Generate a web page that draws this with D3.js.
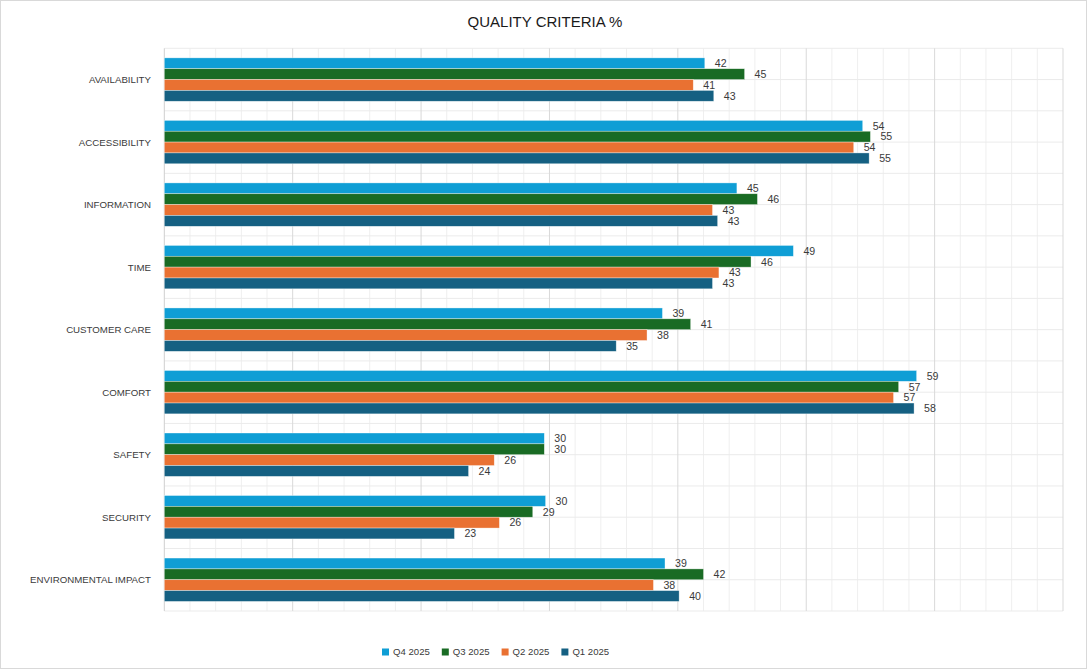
<!DOCTYPE html>
<html>
<head>
<meta charset="utf-8">
<script src="https://cdn.jsdelivr.net/npm/d3@7"></script>
<style>
  html, body { margin: 0; padding: 0; background: #fff; }
  svg { display: block; font-family: 'Liberation Sans', Arial, sans-serif; }
  .cat-label { font-size: 9.7px; fill: #3a3a3a; }
  .val-label { font-size: 10.6px; fill: #3a3a3a; }
  .legend text { font-size: 9.6px; fill: #3a3a3a; }
</style>
</head>
<body>
<div id="chart"></div>
<script>
const categories = ['AVAILABILITY', 'ACCESSIBILITY', 'INFORMATION', 'TIME', 'CUSTOMER CARE',
  'COMFORT', 'SAFETY', 'SECURITY', 'ENVIRONMENTAL IMPACT'];
const seriesNames = ['Q4 2025', 'Q3 2025', 'Q2 2025', 'Q1 2025'];
const q4Values = [42.1, 54.4, 44.6, 49.0, 38.8, 58.6, 29.6, 29.7, 39.0];
const q3Values = [45.2, 55.0, 46.2, 45.7, 41.0, 57.2, 29.6, 28.7, 42.0];
const q2Values = [41.2, 53.7, 42.7, 43.2, 37.6, 56.8, 25.7, 26.1, 38.1];
const q1Values = [42.8, 54.9, 43.1, 42.7, 35.2, 58.4, 23.7, 22.6, 40.1];
const xTicks = [0, 10, 20, 30, 40, 50, 60, 70];

const colors = ['#0f9ed5', '#196b24', '#e97132', '#156082'];
const seriesValues = [q4Values, q3Values, q2Values, q1Values];

const width = 1090;
const height = 670;
const plot = { left: 164.3, right: 1063, top: 48.3, bottom: 611 };

const rows = categories.map((c, i) => ({
  category: c,
  values: seriesNames.map((s, j) => ({ series: s, value: seriesValues[j][i], color: colors[j] }))
}));

const svg = d3.select('#chart')
  .append('svg')
  .attr('width', width)
  .attr('height', height);

svg.append('rect')
  .attr('x', 0.5)
  .attr('y', 0.5)
  .attr('width', 1086)
  .attr('height', 668)
  .attr('fill', '#fff')
  .attr('stroke', '#d9d9d9');

const x = d3.scaleLinear()
  .domain([0, 70])
  .range([plot.left, plot.right]);

const y = d3.scaleBand()
  .domain(categories)
  .range([plot.top, plot.bottom]);

const pad = y.bandwidth() * 0.153;
const ySub = d3.scaleBand()
  .domain(seriesNames)
  .range([pad, y.bandwidth() - pad]);

// grid: minor every 2, major every 10
const grid = svg.append('g').attr('class', 'grid');

grid.selectAll('.minor-x')
  .data(d3.range(0, 71, 2).filter(v => v % 10 !== 0))
  .enter().append('line')
  .attr('x1', d => x(d)).attr('x2', d => x(d))
  .attr('y1', plot.top).attr('y2', plot.bottom)
  .attr('stroke', '#efefef');

const hLines = [];
categories.forEach(c => {
  hLines.push(y(c));
  hLines.push(y(c) + y.bandwidth() / 2);
});
hLines.push(plot.bottom);

grid.selectAll('.h')
  .data(hLines)
  .enter().append('line')
  .attr('x1', plot.left).attr('x2', plot.right)
  .attr('y1', d => d).attr('y2', d => d)
  .attr('stroke', '#ebebeb');

grid.selectAll('.major-x')
  .data(xTicks)
  .enter().append('line')
  .attr('x1', d => x(d)).attr('x2', d => x(d))
  .attr('y1', plot.top).attr('y2', plot.bottom)
  .attr('stroke', d => d === 0 ? '#cfcfcf' : '#d9d9d9');

// bars
const groups = svg.selectAll('.group')
  .data(rows)
  .enter().append('g')
  .attr('class', 'group')
  .attr('transform', d => `translate(0,${y(d.category)})`);

groups.selectAll('rect')
  .data(d => d.values)
  .enter().append('rect')
  .attr('x', x(0))
  .attr('y', d => ySub(d.series))
  .attr('width', d => x(d.value) - x(0))
  .attr('height', ySub.bandwidth())
  .attr('fill', d => d.color)
  .attr('stroke', '#fff')
  .attr('stroke-opacity', 0.6)
  .attr('stroke-width', 0.6);

groups.selectAll('.val-label')
  .data(d => d.values)
  .enter().append('text')
  .attr('class', 'val-label')
  .attr('x', d => x(d.value) + 10)
  .attr('y', d => ySub(d.series) + ySub.bandwidth() / 2)
  .attr('dy', '0.36em')
  .text(d => d3.format('.0f')(d.value));

// category axis labels
svg.append('g')
  .selectAll('text')
  .data(categories)
  .enter().append('text')
  .attr('class', 'cat-label')
  .attr('x', 151)
  .attr('y', d => y(d) + y.bandwidth() / 2)
  .attr('dy', '0.36em')
  .attr('text-anchor', 'end')
  .text(d => d);

// title
svg.append('text')
  .attr('x', 545)
  .attr('y', 26.5)
  .attr('text-anchor', 'middle')
  .style('font-size', '15px')
  .style('fill', '#1a1a1a')
  .text('QUALITY CRITERIA %');

// legend
const legend = svg.append('g')
  .attr('class', 'legend')
  .attr('transform', 'translate(382,652)');

const items = legend.selectAll('g')
  .data(seriesNames)
  .enter().append('g')
  .attr('transform', (d, i) => `translate(${i * 59.8},0)`);

items.append('rect')
  .attr('x', 0)
  .attr('y', -3.5)
  .attr('width', 7)
  .attr('height', 7)
  .attr('fill', (d, i) => colors[i]);

items.append('text')
  .attr('x', 11)
  .attr('y', 0)
  .attr('dy', '0.36em')
  .text(d => d);
</script>
</body>
</html>
